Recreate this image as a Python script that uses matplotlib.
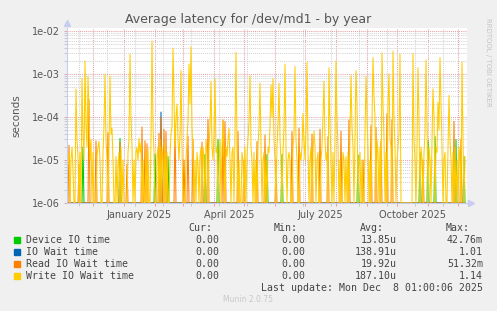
import datetime as dt
import numpy as np
import matplotlib
matplotlib.use("Agg")
import matplotlib.pyplot as plt
import matplotlib.dates as mdates
from matplotlib.patches import Rectangle
from matplotlib.ticker import FixedLocator, NullFormatter

W, H = 497, 311

# day offsets from start_date, value in seconds (days not listed are 0)
start_date = dt.datetime(2024, 11, 4, 17)
n_days = 399

write_pts = [
    (0, 1.2e-5), (1, 8e-6), (2, 1.5e-5), (4, 1.0e-5), (5, 2e-5), (6, 6e-6), (9, 4.5e-4), (10, 3e-5), (11, 1.2e-5),
    (13, 1.5e-5), (15, 7.9e-4), (16, 4e-5), (17, 1e-5), (18, 2.0e-3), (19, 6e-5), (20, 2e-5), (21, 8.7e-4),
    (22, 1.5e-4), (23, 1e-5), (24, 3e-5), (26, 1.5e-5), (30, 1.2e-5), (31, 2e-5), (32, 2.7e-5), (33, 1e-5),
    (36, 1.5e-5), (37, 6e-5), (38, 1.0e-3), (39, 3e-5), (40, 1e-5), (42, 2e-5), (43, 9e-4), (44, 4e-5),
    (45, 5.5e-5), (46, 1e-5), (49, 1.2e-5), (51, 8e-6), (52, 1.5e-5), (54, 2e-5), (56, 1e-5), (61, 1.5e-5),
    (62, 3e-5), (63, 2.9e-3), (64, 1e-4), (65, 2e-5), (67, 1e-5), (69, 1.5e-5), (70, 2e-5), (71, 1e-5),
    (72, 3.2e-5), (73, 1.5e-5), (74, 2.5e-5), (76, 1e-5), (79, 1.5e-5), (81, 2e-5), (84, 3e-5), (85, 5.8e-3),
    (86, 6e-5), (87, 1.5e-5), (90, 1.2e-5), (91, 2e-5), (93, 3e-5), (95, 2e-5), (96, 1e-5), (98, 2.5e-5),
    (100, 1.5e-5), (103, 1.2e-5), (104, 4e-5), (105, 6e-5), (106, 4.0e-3), (107, 3e-4), (108, 2e-5),
    (109, 1e-4), (110, 2e-4), (111, 3e-5), (112, 1e-5), (113, 4e-5), (114, 1.2e-3), (115, 2e-5), (119, 1e-5),
    (120, 3e-5), (121, 8e-5), (122, 1.7e-3), (123, 2e-4), (124, 4.3e-3), (125, 6e-5), (126, 1.5e-5),
    (128, 1e-5), (130, 1.5e-5), (131, 8e-6), (133, 1.2e-5), (134, 2e-5), (136, 2e-5), (137, 1e-5),
    (139, 3e-5), (140, 1.5e-5), (142, 2e-5), (143, 6e-5), (144, 6.6e-4), (145, 2e-5), (146, 1e-5),
    (147, 4e-5), (148, 7.7e-4), (149, 1.5e-5), (150, 2e-5), (152, 1e-5), (153, 3e-5), (155, 2e-5),
    (156, 8e-5), (157, 1e-5), (159, 2e-5), (160, 1.2e-5), (161, 3e-5), (162, 5.5e-5), (163, 1e-5),
    (165, 1.5e-5), (166, 2e-5), (168, 4e-5), (169, 3.2e-3), (170, 2e-5), (172, 1e-5), (175, 1.5e-5),
    (176, 1e-5), (178, 2e-5), (180, 1.2e-5), (181, 3e-5), (182, 8e-5), (183, 9.1e-4), (184, 2e-5),
    (185, 1e-5), (187, 1.5e-5), (189, 1e-5), (191, 2e-5), (192, 6e-5), (193, 6.1e-4), (194, 2e-5),
    (196, 1e-5), (197, 1.5e-5), (199, 1e-5), (201, 2e-5), (202, 1.5e-5), (203, 6e-5), (204, 5.6e-4),
    (205, 1e-4), (206, 7.9e-4), (207, 3e-5), (208, 1e-5), (210, 2e-5), (211, 8e-5), (212, 6.1e-4),
    (213, 3e-5), (214, 1e-5), (216, 1.5e-5), (217, 6e-5), (218, 1.7e-3), (219, 2e-5), (221, 1e-5),
    (222, 1.5e-5), (223, 1e-5), (226, 2e-5), (227, 4e-5), (228, 1.5e-3), (229, 3e-5), (230, 1e-5),
    (233, 1.5e-5), (234, 1e-5), (235, 2e-5), (236, 1.2e-4), (237, 3e-5), (238, 1e-5), (239, 5e-5),
    (240, 1.9e-3), (241, 2e-5), (243, 1e-5), (244, 2e-5), (246, 1.5e-5), (247, 4.7e-5), (248, 2e-5),
    (250, 1e-5), (251, 1.5e-5), (254, 1e-5), (255, 2e-5), (256, 1e-4), (257, 6.8e-4), (258, 3e-5),
    (259, 1e-5), (260, 1.5e-5), (262, 1.4e-3), (263, 6e-5), (264, 1e-5), (266, 1.5e-5), (268, 3e-5),
    (269, 2.0e-3), (270, 1e-4), (271, 2e-5), (273, 1e-5), (276, 1.5e-5), (277, 1e-5), (279, 1.2e-5),
    (281, 1.5e-5), (283, 4e-5), (284, 9.1e-4), (285, 6e-5), (286, 2e-5), (288, 3e-5), (289, 1.2e-3),
    (290, 2e-4), (292, 1e-5), (293, 1.5e-5), (295, 1e-5), (298, 4e-5), (299, 8.7e-4), (300, 1e-4),
    (301, 2e-5), (303, 1e-5), (305, 8e-5), (306, 2.4e-3), (307, 3e-4), (308, 1e-4), (310, 3e-5),
    (311, 1.5e-5), (313, 2e-5), (315, 3.1e-3), (316, 2e-4), (317, 3e-5), (319, 1.5e-5), (321, 2e-4),
    (322, 1.0e-3), (323, 3e-5), (324, 2e-5), (326, 3.4e-3), (327, 1e-4), (328, 2e-5), (330, 1e-5),
    (331, 2e-5), (332, 4e-5), (333, 2.9e-3), (346, 3.0e-3), (347, 3e-5), (348, 1e-5), (350, 2e-5),
    (351, 1.4e-3), (352, 1e-4), (354, 2e-5), (355, 1e-5), (357, 1.5e-5), (358, 4e-5), (359, 2.1e-3),
    (360, 1e-4), (362, 2e-5), (363, 1e-5), (365, 3e-5), (366, 4.5e-4), (367, 1e-4), (369, 2e-5),
    (370, 1.5e-5), (371, 2.2e-4), (372, 5e-5), (373, 2.4e-3), (374, 2e-4), (375, 2e-5), (377, 1e-5),
    (378, 1.5e-5), (381, 2e-5), (382, 3.2e-4), (383, 3e-5), (384, 1e-5), (386, 1.5e-5), (388, 2e-5),
    (390, 1e-5), (392, 2e-5), (393, 1e-5), (395, 1.9e-3), (396, 3e-5), (398, 1.2e-5),
]

read_pts = [
    (2, 2.2e-5), (12, 8e-6), (22, 2.5e-4), (29, 2.8e-5), (41, 4.3e-5), (53, 2.6e-5), (60, 8e-6), (75, 5.9e-5),
    (78, 2.8e-5), (80, 2.4e-5), (92, 4.2e-5), (94, 9.6e-5), (97, 5.2e-5), (99, 4.6e-5), (108, 6.3e-5),
    (117, 1e-5), (121, 3.6e-5), (126, 3e-5), (135, 2.6e-5), (141, 8.8e-5), (156, 8.6e-5), (158, 7.8e-5),
    (171, 4.6e-5), (177, 1e-5), (190, 2.7e-5), (198, 3.8e-5), (209, 1e-5), (225, 4.6e-5), (232, 5.5e-5),
    (245, 4e-5), (253, 5.2e-5), (261, 3.5e-5), (274, 4.7e-5), (282, 8.6e-5), (296, 1e-5), (304, 6.3e-5),
    (309, 5.7e-5), (314, 2.8e-5), (320, 1.2e-4), (325, 8.6e-5), (356, 1e-5), (387, 7.9e-5), (394, 3.1e-5),
]

device_pts = [
    (16, 2e-5), (53, 3.2e-5), (88, 1.35e-5), (101, 1.2e-5), (138, 1.35e-5), (151, 3e-5), (200, 1.35e-5),
    (215, 1.35e-5), (291, 1.3e-5), (353, 1.5e-5), (361, 2.8e-5), (368, 3.5e-5), (389, 3e-5), (397, 1.2e-5),
]

iowait_pts = [(94, 1.3e-4)]

series = [
    ("Device IO time", "#00CC00", device_pts, "0.00", "0.00", "13.85u", "42.76m"),
    ("IO Wait time", "#0066B3", iowait_pts, "0.00", "0.00", "138.91u", "1.01"),
    ("Read IO Wait time", "#FF8000", read_pts, "0.00", "0.00", "19.92u", "51.32m"),
    ("Write IO Wait time", "#FFCC00", write_pts, "0.00", "0.00", "187.10u", "1.14"),
]

month_starts = [dt.datetime(2024, 12, 1)] + [dt.datetime(2025, m, 1) for m in range(1, 13)]
label_dates = [dt.datetime(2025, 1, 16), dt.datetime(2025, 4, 16), dt.datetime(2025, 7, 16), dt.datetime(2025, 10, 16)]
label_text = ["January 2025", "April 2025", "July 2025", "October 2025"]
ytick_vals = [1e-6, 1e-5, 1e-4, 1e-3, 1e-2]
ytick_text = ["1e-06", "1e-05", "1e-04", "1e-03", "1e-02"]


def fx(px):
    return px / W


def fy(py):
    return 1 - py / H


fig = plt.figure(figsize=(W / 100, H / 100), dpi=100, facecolor="#F0F0F0")
ax = fig.add_axes([fx(67), fy(203), fx(400), (203 - 28) / H])
ax.set_facecolor("white")

x0 = mdates.date2num(start_date)
xs = x0 + np.arange(n_days)
for name, color, pts, *_ in series:
    vals = np.zeros(n_days)
    for d, v in pts:
        vals[d] = v
    # zero days sit on the bottom edge, as rrdtool draws them
    ax.plot(xs, np.where(vals > 0, vals, 1e-6), color=color, lw=0.75)

ax.set_yscale("log")
ax.set_ylim(1e-6, 10 ** (-2 + 3 / 42.75))
ax.set_xlim(x0, x0 + 400)

grey = "#D4D4D4"
red = "#E8A0A0"
dot = (0, (1, 1))
ax.yaxis.set_major_locator(FixedLocator(ytick_vals))
ax.yaxis.set_minor_locator(FixedLocator([m * 10.0 ** e for e in range(-6, -1) for m in range(2, 10)]))
ax.set_yticklabels(ytick_text)
ax.yaxis.set_minor_formatter(NullFormatter())
minor_x = [mdates.date2num(dt.datetime(2024, 11, 17)) + 28 * k for k in range(15)]
ax.xaxis.set_major_locator(FixedLocator(mdates.date2num(month_starts)))
ax.xaxis.set_minor_locator(FixedLocator(minor_x))
ax.set_xticklabels([])
ax.grid(which="minor", color=grey, ls=dot, lw=0.75)
ax.grid(which="major", color=red, ls=dot, lw=0.75)
ax.set_axisbelow(True)

ax.tick_params(axis="both", which="both", length=2, width=0.7, colors="#E8A0A0", labelcolor="#555555", labelsize=7, pad=3)
ax.tick_params(axis="both", which="minor", colors="#C8C8C8")
for lab, d in zip(label_text, label_dates):
    ax.text(mdates.date2num(d), -0.04, lab, transform=ax.get_xaxis_transform(), ha="center", va="top",
            fontsize=7, color="#555555")

for s in ("top", "right"):
    ax.spines[s].set_visible(False)
for s in ("left", "bottom"):
    ax.spines[s].set_color("#C8CCF0")
    ax.spines[s].set_linewidth(0.8)
ax.plot([0], [1.03], marker="^", ms=4, color="#C8CCF0", transform=ax.transAxes, clip_on=False)
ax.plot([1.01], [0], marker=">", ms=4, color="#C8CCF0", transform=ax.transAxes, clip_on=False)

ax.set_ylabel("seconds", fontsize=7.5, color="#555555", labelpad=8)

fig.text(fx(248), fy(19), "Average latency for /dev/md1 - by year", ha="center", va="center",
         fontsize=9, color="#555555")
fig.text(fx(488), fy(62), "RRDTOOL / TOBI OETIKER", rotation=270, ha="center", va="center",
         fontsize=5, color="#C4C4C4")

mono = dict(family="DejaVu Sans Mono", fontsize=7.1, color="#444444")
for hdr, right in (("Cur:", 212), ("Min:", 298), ("Avg:", 384), ("Max:", 470)):
    fig.text(fx(right), fy(228), hdr, ha="right", va="center", **mono)
rows_y = [240, 252, 264, 276]
for (name, color, pts, cur, mn, avg, mx), y in zip(series, rows_y):
    fig.add_artist(Rectangle((fx(14), fy(y + 3)), fx(6), 6 / H, transform=fig.transFigure, color=color))
    fig.text(fx(26), fy(y), name, ha="left", va="center", **mono)
    for val, right in ((cur, 219), (mn, 305), (avg, 397), (mx, 483)):
        fig.text(fx(right), fy(y), val, ha="right", va="center", **mono)
fig.text(fx(483), fy(288), "Last update: Mon Dec  8 01:00:06 2025", ha="right", va="center", **mono)
fig.text(fx(248), fy(300), "Munin 2.0.75", ha="center", va="center", fontsize=5.5, color="#C8C8C8")

fig.savefig("out.png", dpi=100, facecolor=fig.get_facecolor())
